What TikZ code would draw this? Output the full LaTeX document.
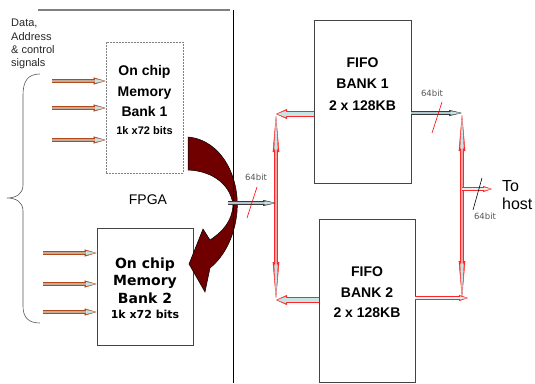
\documentclass[tikz,border=0pt]{standalone}
\usepackage{fontspec}
\setmainfont{Liberation Sans}
\newfontfamily\verdana{DejaVu Sans}
\usetikzlibrary{arrows.meta}
\definecolor{brn}{HTML}{B24A1C}
\definecolor{shaftc}{HTML}{C2AA96}
\definecolor{ice}{HTML}{C4E4E6}
\definecolor{busred}{HTML}{FF2626}
\definecolor{pinkc}{HTML}{F2A4A4}
\definecolor{wirec}{HTML}{3A3A3A}
\definecolor{wirefill}{HTML}{B2C8D0}
\definecolor{ribbon}{HTML}{700000}
\definecolor{framec}{HTML}{444444}
\definecolor{soft}{HTML}{555555}

\tikzset{
  box/.style={draw=framec,line width=0.9pt,inner sep=0pt},
  dashbox/.style={draw=gray,line width=0.7pt,dash pattern=on 2pt off 1pt,inner sep=0pt},
  txtbold/.style={align=center,font=\bfseries\fontsize{14}{20.5}\selectfont},
  lbl/.style={font=\verdana\fontsize{8.5}{10}\selectfont,text=soft,inner sep=0pt},
  % hollow arrows: outline pass first, then the inner fill pass
  sigin/.style={preaction={draw=brn,line width=4pt,shorten >=0pt,
      -{Triangle[length=12pt,width=7pt,line width=0.4pt]}},
    draw=shaftc,line width=2pt,shorten >=1.5pt,
    -{Triangle[length=9pt,width=4pt,line width=0.1pt,color=ice]}},
  wire/.style={preaction={draw=wirec,line width=3.6pt,shorten >=0pt,
      -{Triangle[length=13pt,width=6pt,line width=0.4pt]}},
    draw=wirefill,line width=1.8pt,shorten >=1.5pt,
    -{Triangle[length=10pt,width=3.4pt,line width=0.1pt,color=ice]}},
  bus/.style={preaction={draw=busred,line width=5.5pt,shorten >=0pt,
      -{Triangle[length=11pt,width=10pt,line width=0.4pt]}},
    draw=ice,line width=3.3pt,shorten >=1.5pt,
    -{Triangle[length=8.5pt,width=6.5pt,line width=0.1pt,color=ice]}},
  busthin/.style={preaction={draw=busred,line width=3.6pt,shorten >=0pt,
      -{Triangle[length=9pt,width=6pt,line width=0.4pt]}},
    draw=ice!50!white,line width=1.6pt,shorten >=1.5pt,
    -{Triangle[length=6.5pt,width=3pt,line width=0.1pt,color=ice!50!white]}},
  busv/.style={preaction={draw=busred,line width=3.6pt,shorten >=0pt,shorten <=0pt,
      {Triangle[length=38pt,width=6.5pt,line width=0.4pt]}-{Triangle[length=38pt,width=6.5pt,line width=0.4pt]}},
    draw=pinkc,line width=1.6pt,shorten >=1.5pt,shorten <=1.5pt,
    {Triangle[length=34pt,width=3.4pt,line width=0.1pt,color=ice]}-{Triangle[length=34pt,width=3.4pt,line width=0.1pt,color=ice]}},
}

\begin{document}
\begin{tikzpicture}[x=1pt,y=-1pt]
  \useasboundingbox (0,0) rectangle (535,383);
  % memory banks and FIFOs
  \node[dashbox,minimum width=77pt,minimum height=131pt] (bank1) at (144.5,107.5) {};
  \node[box,minimum width=96pt,minimum height=117pt] (bank2) at (145,286.5) {};
  \node[box,minimum width=97pt,minimum height=163pt] (fifo1) at (362.5,101.5) {};
  \node[box,minimum width=96pt,minimum height=163pt] (fifo2) at (367,300.5) {};
  \node[txtbold] (b1t) at ([yshift=7.5pt]bank1.center)
    {On chip\\Memory\\Bank 1\\[-3pt]{\fontsize{11}{13}\selectfont 1k x72 bits}};
  \node[txtbold,font=\verdana\bfseries\fontsize{14}{17.5}\selectfont] (b2t) at ([yshift=-2pt]bank2.center)
    {On chip\\Memory\\Bank 2\\[-2pt]{\fontsize{11}{13}\selectfont 1k x72 bits}};
  \node[txtbold,font=\bfseries\fontsize{14}{21.5}\selectfont] (f1t) at ([yshift=17.5pt]fifo1.center)
    {FIFO\\BANK 1\\2 x 128KB};
  \node[txtbold] (f2t) at ([yshift=8pt]fifo2.center) {FIFO\\BANK 2\\2 x 128KB};

  % twisted arrow bank 1 -> bank 2
  \filldraw[fill=ribbon,draw=black,line width=0.5pt]
    (188,137) .. controls (222,140) and (240,178) .. (237,212)
    .. controls (235,235) and (225,256) .. (210,268)
    -- (205,292) -- (189,264) -- (203,229) -- (210,240)
    .. controls (222,232) and (232,222) .. (233,205)
    .. controls (231,186) and (214,171) .. (188,170) -- cycle;

  % FPGA border
  \draw[gray,line width=1.4pt] (38,10) -- (230,10);
  \draw[black,line width=0.8pt] (233,10) -- (233,383);
  \node[font=\fontsize{14}{16}\selectfont] (fpga) at (148,200) {FPGA};

  % signals in
  \node[anchor=north west,align=left,inner sep=0pt,text=black!85,
    font=\fontsize{11}{13.4}\selectfont] (sig) at (11,19) {Data,\\Address\\\& control\\signals};
  \draw[soft,line width=0.6pt] (40,74) .. controls (28,74) and (23,81) .. (23,95)
    -- (23,185) .. controls (23,194) and (16,198) .. (7,198)
    .. controls (16,198) and (23,202) .. (23,211)
    -- (23,306) .. controls (23,317) and (28,323) .. (40,323);
  \foreach \y [count=\i] in {81,108,140} {
    \coordinate (ia\i) at (52,\y);
    \draw[sigin] (ia\i) -- (bank1.west |- ia\i);
  }
  \foreach \y [count=\i] in {253,284,312} {
    \coordinate (ib\i) at (43,\y);
    \draw[sigin] (ib\i) -- (bank2.west |- ib\i);
  }

  % bus
  \coordinate (lt) at (276,114);
  \coordinate (lb) at (276,300);
  \coordinate (rt) at (462,113);
  \coordinate (rb) at (462,299);
  \coordinate (fp) at (228,203);
  \coordinate (rx) at (468,298);
  \coordinate (th) at (492,189);
  \draw[busv] (lb) -- (lt);
  \draw[busv] (rb) -- (rt);
  \draw[bus] (fifo1.west |- lt) -- (lt);
  \draw[bus] (fifo2.west |- lb) -- (lb);
  \draw[wire] (fifo1.east |- rt) -- (rt);
  \draw[busthin] (fifo2.east |- rx) -- (rx);
  \draw[wire] (fp) -- (fp -| lt);
  \draw[busthin] (rt |- th) -- (th);

  % bus widths
  \draw[red,line width=0.6pt] (257,187) -- (247,218);
  \node[lbl] (w1) at (256,177) {64bit};
  \draw[red,line width=0.6pt] (442,102) -- (432,133);
  \node[lbl] (w2) at (432,93) {64bit};
  \draw[black,line width=0.6pt] (482,178) -- (473,210);
  \node[lbl] (w3) at (485,216) {64bit};
  \node[anchor=west,align=left,inner sep=0pt,font=\fontsize{16}{17.5}\selectfont] (host) at (502,195) {To\\host};
\end{tikzpicture}
\end{document}
